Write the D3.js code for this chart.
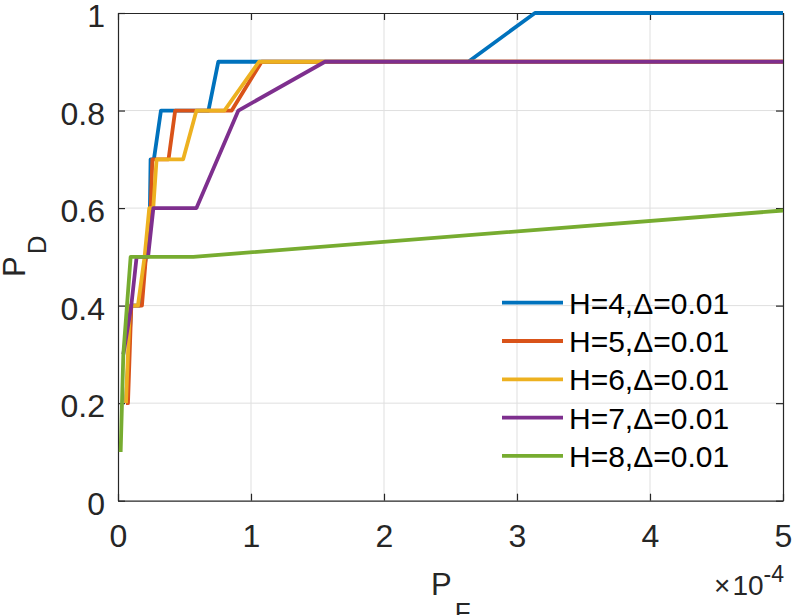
<!DOCTYPE html>
<html>
<head>
<meta charset="utf-8">
<script src="https://cdn.jsdelivr.net/npm/d3@7"></script>
<style>
  html, body { margin: 0; padding: 0; background: #fff; }
  svg { display: block; font-family: "Liberation Sans", Arial, Helvetica, sans-serif; }
</style>
</head>
<body>
<svg id="chart" width="794" height="615"></svg>
<script>
// ---- data (x values in units of 1e-4) ----
const xExponent = -4;
const xTicks = [0, 1, 2, 3, 4, 5];
const yTicks = [0, 0.2, 0.4, 0.6, 0.8, 1];
const yTickLabels = ["0", "0.2", "0.4", "0.6", "0.8", "1"];
const seriesNames = ["H=4,\u0394=0.01", "H=5,\u0394=0.01", "H=6,\u0394=0.01", "H=7,\u0394=0.01", "H=8,\u0394=0.01"];
const seriesColors = ["#0072BD", "#D95319", "#EDB120", "#7E2F8E", "#77AC30"];

const h4 = [[0.06,0.2],[0.1,0.4],[0.16,0.4],[0.21,0.5],[0.24,0.6],[0.245,0.7],[0.27,0.7],[0.323,0.8],[0.68,0.8],[0.754,0.9],[2.634,0.9],[3.135,1],[5,1]];
const h5 = [[0.06,0.2],[0.075,0.2],[0.1,0.4],[0.18,0.4],[0.21,0.5],[0.246,0.6],[0.258,0.7],[0.38,0.7],[0.43,0.8],[0.855,0.8],[1.08,0.9],[5,0.9]];
const h6 = [[0.06,0.2],[0.09,0.4],[0.15,0.4],[0.2,0.5],[0.235,0.6],[0.265,0.6],[0.29,0.7],[0.49,0.7],[0.59,0.8],[0.8,0.8],[1.06,0.9],[5,0.9]];
const h7 = [[0.04,0.3],[0.1,0.4],[0.14,0.5],[0.226,0.5],[0.266,0.6],[0.59,0.6],[0.905,0.8],[1.556,0.9],[5,0.9]];
const h8 = [[0.02,0.1],[0.04,0.3],[0.095,0.5],[0.566,0.5],[5,0.595]];
const seriesData = [h4, h5, h6, h7, h8];

// ---- layout ----
const svg = d3.select("#chart");
const L = 118, R = 783, T = 13, B = 500.7;
const x = d3.scaleLinear().domain([0, 5]).range([L, R]);
const y = d3.scaleLinear().domain([0, 1]).range([B, T]);
const axisColor = "#262626";
const tickLen = 7;

// grid
const grid = svg.append("g");
grid.selectAll(".gx").data(xTicks.slice(1, -1)).enter().append("line")
  .attr("x1", d => x(d)).attr("x2", d => x(d)).attr("y1", T).attr("y2", B)
  .attr("stroke", "#dfdfdf").attr("stroke-width", 1);
grid.selectAll(".gy").data(yTicks.slice(1, -1)).enter().append("line")
  .attr("y1", d => y(d)).attr("y2", d => y(d)).attr("x1", L).attr("x2", R)
  .attr("stroke", "#dfdfdf").attr("stroke-width", 1);

// axes (inner ticks, box)
const xAxisB = d3.axisBottom(x).tickValues(xTicks).tickSizeInner(-tickLen).tickSizeOuter(0).tickPadding(0).tickFormat(d3.format("d"));
const xAxisT = d3.axisTop(x).tickValues(xTicks).tickSizeInner(-tickLen).tickSizeOuter(0).tickFormat("");
const yAxisL = d3.axisLeft(y).tickValues(yTicks).tickSizeInner(-tickLen).tickSizeOuter(0).tickFormat((d, i) => yTickLabels[i]);
const yAxisR = d3.axisRight(y).tickValues(yTicks).tickSizeInner(-tickLen).tickSizeOuter(0).tickFormat("");

function styleAxis(g) {
  g.select(".domain").attr("stroke", axisColor).attr("stroke-width", 1.2);
  g.selectAll(".tick line").attr("stroke", axisColor).attr("stroke-width", 1.2);
  g.selectAll(".tick text").attr("fill", axisColor).attr("font-size", 32)
    .attr("font-family", "'Liberation Sans', Arial, sans-serif");
}
const gB = svg.append("g").attr("transform", `translate(0,${B})`).call(xAxisB).call(styleAxis);
gB.selectAll(".tick text").attr("dy", null).attr("y", 46);
const gT = svg.append("g").attr("transform", `translate(0,${T})`).call(xAxisT).call(styleAxis);
const gL = svg.append("g").attr("transform", `translate(${L},0)`).call(yAxisL).call(styleAxis);
gL.selectAll(".tick text").attr("dy", null).attr("x", -13).attr("y", 13.5);
const gR = svg.append("g").attr("transform", `translate(${R},0)`).call(yAxisR).call(styleAxis);
svg.selectAll(".tick text").attr("font-size", 32);

// axis labels
const xl = svg.append("text").attr("x", 431).attr("y", 595).attr("fill", axisColor)
  .attr("font-size", 31);
xl.append("tspan").text("P");
xl.append("tspan").attr("font-size", 26).attr("dx", 3).attr("dy", 26).text("F");

const yl = svg.append("text").attr("transform", "translate(25,277) rotate(-90)").attr("fill", axisColor)
  .attr("font-size", 31);
yl.append("tspan").text("P");
yl.append("tspan").attr("font-size", 26).attr("dx", 2).attr("dy", 21).text("D");

// exponent label
const ex = svg.append("text").attr("x", 784).attr("y", 595).attr("text-anchor", "end").attr("fill", axisColor)
  .attr("font-size", 28);
ex.append("tspan").text("\u00D7");
ex.append("tspan").attr("dx", 2).text("10");
ex.append("tspan").attr("font-size", 23).attr("dy", -13).text(String(xExponent));

// lines
const line = d3.line().x(d => x(d[0])).y(d => y(d[1]));
svg.append("g").selectAll("path").data(seriesData).enter().append("path")
  .attr("d", d => line(d)).attr("fill", "none")
  .attr("stroke", (d, i) => seriesColors[i]).attr("stroke-width", 3.8)
  .attr("stroke-linejoin", "round").attr("stroke-linecap", "butt");

// legend
const lg = svg.append("g");
const legY0 = 302.7, legDy = 38.3;
seriesNames.forEach((name, i) => {
  const yy = legY0 + i * legDy;
  lg.append("line").attr("x1", 502).attr("x2", 563).attr("y1", yy).attr("y2", yy)
    .attr("stroke", seriesColors[i]).attr("stroke-width", 3.8);
  lg.append("text").attr("x", 569).attr("y", yy + 11).attr("font-size", 30).attr("fill", "#000")
    .text(name);
});
</script>
</body>
</html>
